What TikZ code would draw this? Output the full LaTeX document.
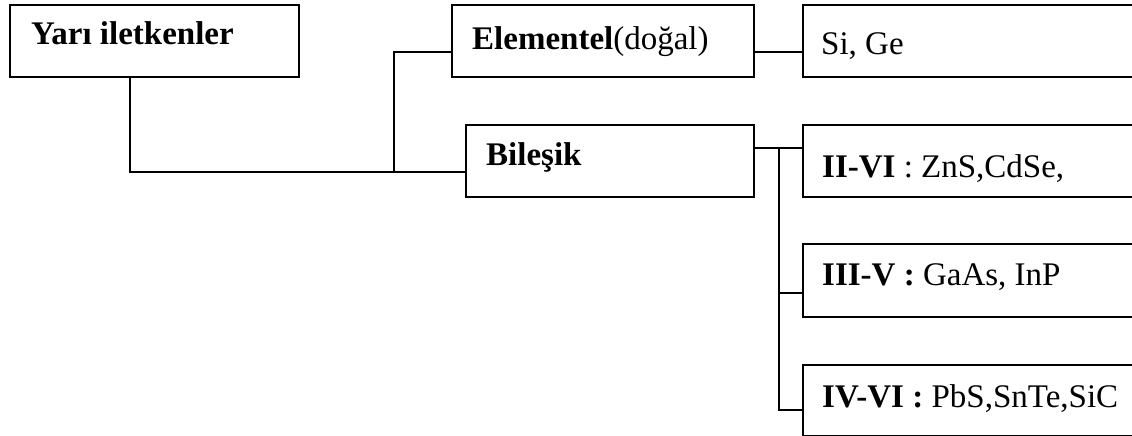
\documentclass[tikz,border=0pt]{standalone}
\usepackage{fontspec}
\setmainfont{Liberation Serif}
\begin{document}
\begin{tikzpicture}[x=1pt,y=-1pt,
  box/.style={draw,line width=1.8pt,rectangle,inner sep=0pt,anchor=north west},
  lbl/.style={anchor=base west,inner sep=0pt,font=\fontsize{33}{40}\selectfont},
  conn/.style={line width=1.6pt}]
\useasboundingbox (0,0) rectangle (1132,436);
\node[box,minimum width=289pt,minimum height=72pt] (A) at (9,4) {};
\node[box,minimum width=302pt,minimum height=72pt] (El) at (451,4) {};
\node[box,minimum width=288pt,minimum height=72pt] (Bil) at (465,124) {};
\node[box,minimum width=340pt,minimum height=72pt] (Si) at (802,4) {};
\node[box,minimum width=340pt,minimum height=72pt] (II) at (802,124) {};
\node[box,minimum width=340pt,minimum height=73pt] (III) at (802,243) {};
\node[box,minimum width=340pt,minimum height=71pt] (IV) at (802,364) {};
\node[lbl] (tA) at (31,45) {\textbf{Yarı iletkenler}};
\node[lbl] (tEl) at (472,49) {\textbf{Elementel}(doğal)};
\node[lbl] (tBil) at (486,165) {\textbf{Bileşik}};
\node[lbl] (tSi) at (821,55) {Si, Ge};
\node[lbl] (tII) at (822,177) {\textbf{II-VI} : ZnS,CdSe,};
\node[lbl] (tIII) at (822,285) {\textbf{III-V :} GaAs, InP};
\node[lbl] (tIV) at (822,407) {\textbf{IV-VI :} PbS,SnTe,SiC};
\coordinate (p1) at (130,172);
\coordinate (p2) at (394,172);
\coordinate (p3) at (394,52);
\coordinate (q1) at (0,52);
\coordinate (q2) at (0,148);
\coordinate (v0) at (779,148);
\coordinate (v1) at (779,293);
\coordinate (v2) at (779,410);
\draw[conn] (A.south -| p1) -- (p1) -- (p2) -- (Bil.west |- p2);
\draw[conn] (p2) -- (p3) -- (El.west |- p3);
\draw[conn] (El.east |- q1) -- (Si.west |- q1);
\draw[conn] (Bil.east |- q2) -- (II.west |- q2);
\draw[conn] (v0) -- (v2) -- (IV.west |- v2);
\draw[conn] (v1) -- (III.west |- v1);
\end{tikzpicture}
\end{document}
